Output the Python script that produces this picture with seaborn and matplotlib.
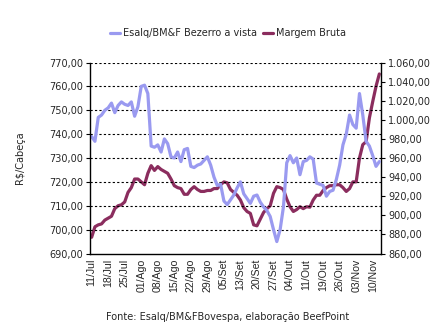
import numpy as np
import pandas as pd
import matplotlib
matplotlib.use("Agg")
import matplotlib.pyplot as plt
import seaborn as sns
from matplotlib.ticker import FuncFormatter, FixedLocator, MultipleLocator

# ---- data ----
bezerro = [739, 737, 747, 748, 750, 751, 753, 749, 752, 753.5,
           752.5, 752, 753.5, 747.5, 751.5, 760, 760.5, 757, 735, 734.5,
           735.5, 732.5, 738, 736, 730.5, 730, 732.5, 728.5, 733.5, 734,
           726.5, 726, 727, 727.5, 729, 730.5, 727, 722, 718.5, 719,
           712, 710.5, 712.5, 714.5, 717.5, 720, 715, 713, 711, 714,
           714.5, 711.5, 709.5, 708, 705.5, 700, 695, 700, 709.5, 728,
           731, 728, 730, 723, 728.5, 729, 730.5, 729.5, 719.5, 719,
           718.5, 714, 716, 716.5, 721, 727, 735.5, 740, 748, 744,
           742.5, 757, 748, 737, 735, 731, 726.5, 728.5]
margem = [877, 888, 890, 891, 895, 897, 899, 907, 910, 911,
          914, 924, 929, 938, 938, 935, 932, 944, 952, 947,
          951, 948, 946, 944, 938, 931, 929, 928, 922, 922,
          927, 930, 927, 925, 925, 926, 926, 928, 928, 932,
          935, 934, 927, 924, 921, 916, 908, 904, 902, 890,
          889, 896, 903, 907, 910, 923, 930, 929, 927, 917,
          909, 904, 906, 909, 907, 909, 908.5, 916, 921, 921,
          926, 929, 931, 931, 932, 932, 929, 925, 928, 935,
          935, 960, 974, 977, 1002, 1019, 1035, 1048]
tick_labels = ["11/Jul", "18/Jul", "25/Jul", "01/Ago", "08/Ago", "15/Ago",
               "22/Ago", "29/Ago", "05/Set", "13/Set", "20/Set", "27/Set",
               "04/Out", "11/Out", "19/Out", "26/Out", "03/Nov", "10/Nov"]
label_step = 5

n = len(bezerro)
df = pd.DataFrame({"idx": np.arange(n), "bezerro": bezerro, "margem": margem})

sns.set_style("white")
plt.rcParams["font.family"] = ["DejaVu Sans"]

c_blue = "#9a9af0"
c_dark = "#8b2d5e"

fig = plt.figure(figsize=(4.47, 3.30), dpi=100)
ax = fig.add_axes([0.2013, 0.2318, 0.6510, 0.5788])
ax2 = ax.twinx()

sns.lineplot(data=df, x="idx", y="bezerro", ax=ax, color=c_blue, linewidth=2.3,
             label="Esalq/BM&F Bezerro a vista", legend=False)
sns.lineplot(data=df, x="idx", y="margem", ax=ax2, color=c_dark, linewidth=2.3,
             label="Margem Bruta", legend=False)

ax.set_xlim(-0.5, n - 0.5)
ax.set_ylim(690, 770)
ax2.set_ylim(860, 1060)
ax.yaxis.set_major_locator(MultipleLocator(10))
ax2.yaxis.set_major_locator(MultipleLocator(20))

fmt_l = FuncFormatter(lambda v, p: f"{v:,.2f}".replace(",", "X").replace(".", ",").replace("X", "."))
ax.yaxis.set_major_formatter(fmt_l)
ax2.yaxis.set_major_formatter(fmt_l)

# grid (dotted at left axis ticks)
for v in np.arange(700, 771, 10):
    ax.axhline(v, color="black", linestyle=(0, (2, 2)), linewidth=0.8, zorder=0)

pos = np.arange(0, n, label_step)[:len(tick_labels)]
ax.xaxis.set_major_locator(FixedLocator(pos))
ax.set_xticklabels(tick_labels, rotation=90, fontsize=7.6, family="Liberation Sans")
ax.xaxis.set_minor_locator(FixedLocator(np.arange(-0.5, n, 1.0)))
ax.tick_params(axis="x", which="major", length=0, pad=4)
ax.tick_params(axis="x", which="minor", length=3.5, width=0.9, direction="out", color="black")
ax.tick_params(axis="y", length=3, width=0.8, direction="out", color="black", labelsize=7, pad=2)
ax2.tick_params(axis="y", length=3, width=0.8, direction="out", color="black", labelsize=7, pad=2)
ax.set_xlabel("")
ax.set_ylabel("R$/Cabeça", fontsize=7, labelpad=17)
ax2.set_ylabel("")

for a in (ax, ax2):
    a.spines["top"].set_visible(False)
    for s in ("left", "right", "bottom"):
        a.spines[s].set_color("black")
        a.spines[s].set_linewidth(1.0)
ax.spines["right"].set_visible(False)
ax2.spines["left"].set_visible(False)
ax2.spines["bottom"].set_visible(False)
ax.set_zorder(ax2.get_zorder() + 1)
ax.patch.set_visible(False)

h1, l1 = ax.get_legend_handles_labels()
h2, l2 = ax2.get_legend_handles_labels()
fig.legend(h1 + h2, l1 + l2, loc="center", bbox_to_anchor=(0.51, 0.90), ncol=2,
           frameon=False, fontsize=7, handlelength=1.0, handletextpad=0.3,
           columnspacing=0.6)

fig.text(0.51, 0.04, "Fonte: Esalq/BM&FBovespa, elaboração BeefPoint",
         ha="center", va="center", fontsize=7)

fig.savefig("out.png", dpi=100, facecolor="white")
